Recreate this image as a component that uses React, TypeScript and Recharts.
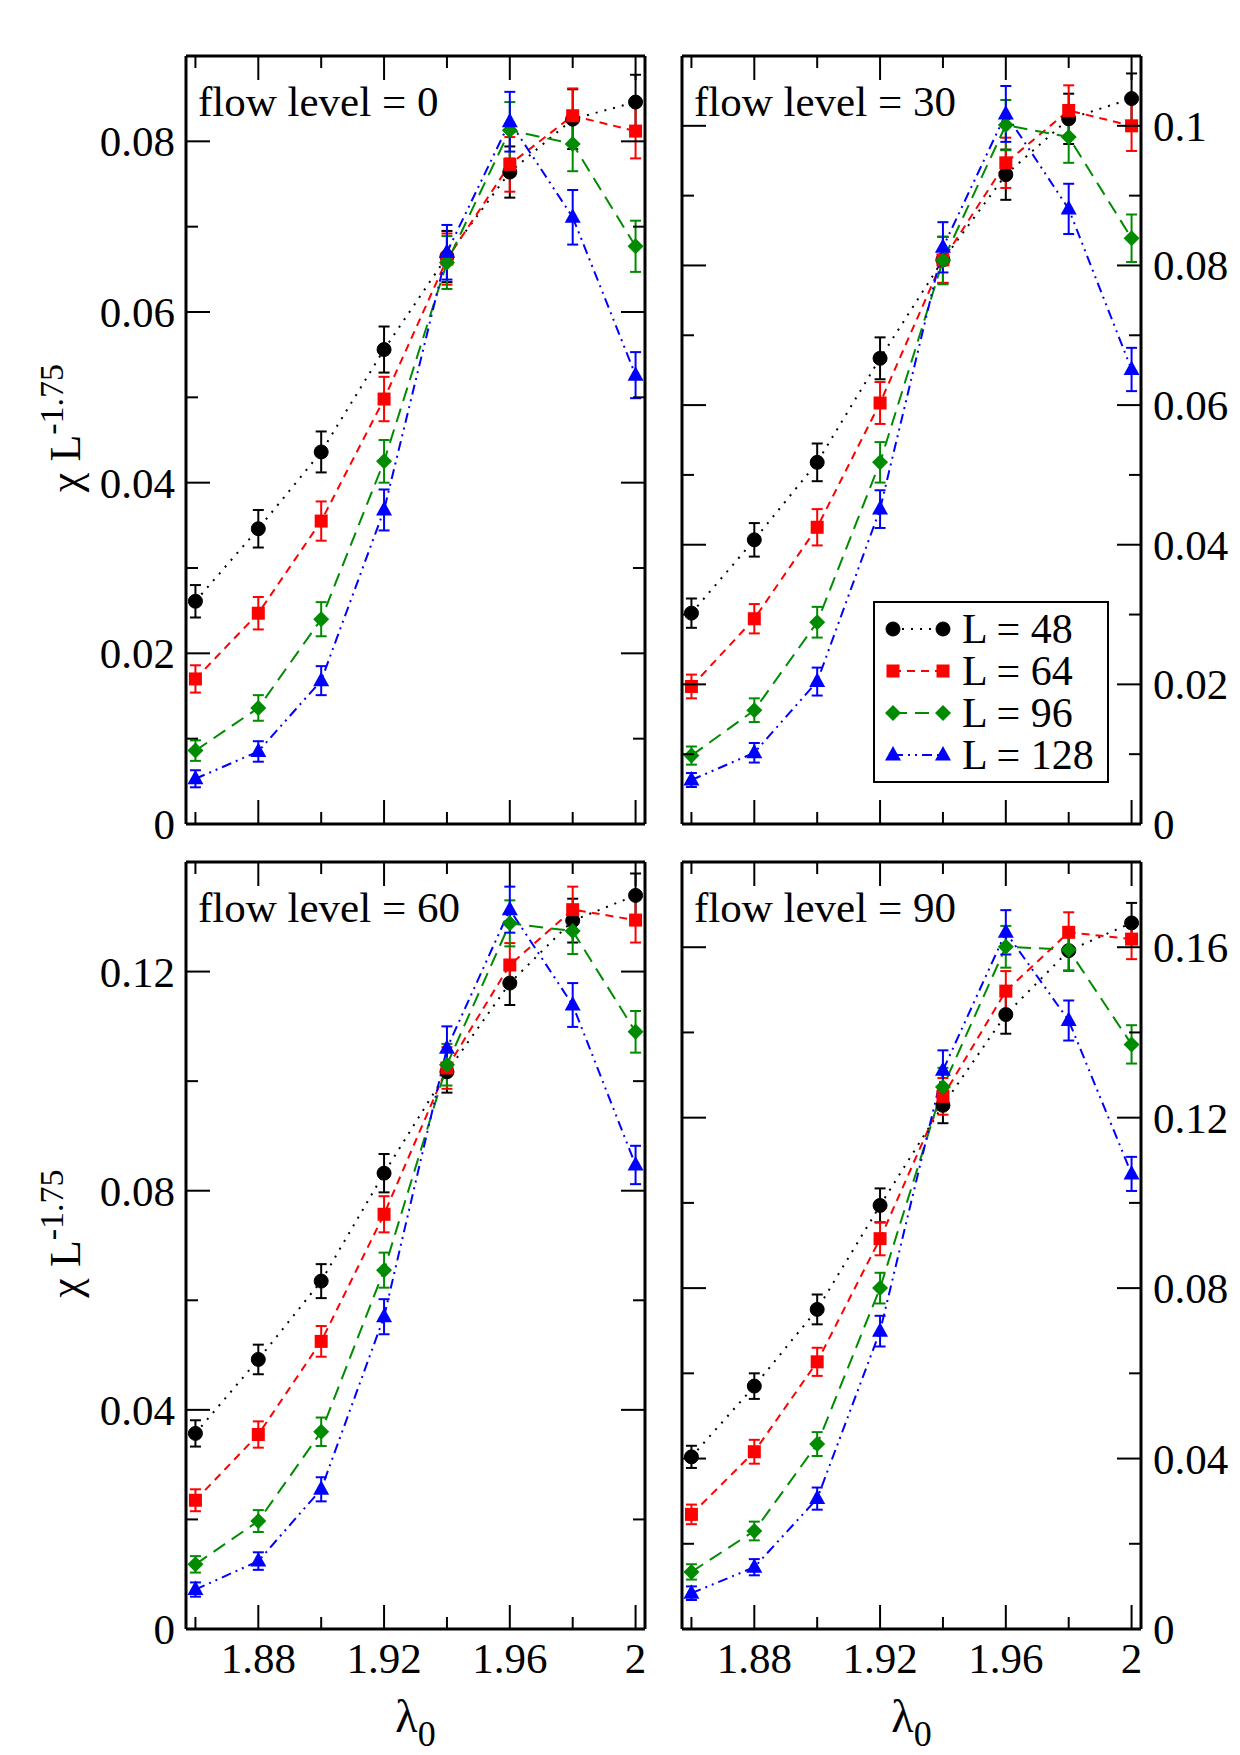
import React from 'react';
import { ComposedChart, Line, XAxis, YAxis, ErrorBar, Legend, Label } from 'recharts';

const FONT = '"Liberation Serif", "Times New Roman", Times, serif';

// ---------------- data ----------------
const lambda0 = [1.86, 1.88, 1.9, 1.92, 1.94, 1.96, 1.98, 2.0];
const xTicks = [1.86, 1.88, 1.9, 1.92, 1.94, 1.96, 1.98, 2.0];
const xTickLabels = ['', '1.88', '', '1.92', '', '1.96', '', '2'];
const xDomain = [1.857, 2.003];

const seriesNames = ['L = 48', 'L = 64', 'L = 96', 'L = 128'];
const seriesKeys = ['L48', 'L64', 'L96', 'L128'];
const seriesColors = ['#000000', '#ff0000', '#008b00', '#0000ff'];
const seriesDashes = ['2 7', '8 6', '14 8', '10 5 2 5 2 5'];
const seriesShapes = ['circle', 'square', 'diamond', 'triangle'];

// flow level = 0
const flow0L48 = [0.0261, 0.0346, 0.0436, 0.0556, 0.0665, 0.0764, 0.0826, 0.0846];
const flow0L64 = [0.0170, 0.0247, 0.0355, 0.0498, 0.0662, 0.0773, 0.0830, 0.0812];
const flow0L96 = [0.0086, 0.0136, 0.0240, 0.0425, 0.0658, 0.0813, 0.0797, 0.0677];
const flow0L128 = [0.0053, 0.0085, 0.0168, 0.0368, 0.0670, 0.0823, 0.0711, 0.0526];
const flow0L48Err = [0.0019, 0.0022, 0.0024, 0.0027, 0.0030, 0.0030, 0.0035, 0.0032];
const flow0L64Err = [0.0016, 0.0019, 0.0023, 0.0026, 0.0030, 0.0032, 0.0032, 0.0032];
const flow0L96Err = [0.0012, 0.0015, 0.0020, 0.0025, 0.0031, 0.0033, 0.0032, 0.0030];
const flow0L128Err = [0.0010, 0.0012, 0.0017, 0.0024, 0.0032, 0.0035, 0.0032, 0.0027];

// flow level = 30
const flow30L48 = [0.0302, 0.0407, 0.0518, 0.0667, 0.0808, 0.0930, 0.1010, 0.1039];
const flow30L64 = [0.0197, 0.0294, 0.0425, 0.0603, 0.0808, 0.0947, 0.1022, 0.1000];
const flow30L96 = [0.0098, 0.0163, 0.0289, 0.0518, 0.0807, 0.1001, 0.0984, 0.0839];
const flow30L128 = [0.0063, 0.0102, 0.0204, 0.0451, 0.0826, 0.1017, 0.0881, 0.0651];
const flow30L48Err = [0.0021, 0.0024, 0.0027, 0.0030, 0.0033, 0.0036, 0.0036, 0.0036];
const flow30L64Err = [0.0017, 0.0021, 0.0026, 0.0030, 0.0033, 0.0036, 0.0036, 0.0036];
const flow30L96Err = [0.0013, 0.0017, 0.0022, 0.0029, 0.0034, 0.0036, 0.0037, 0.0034];
const flow30L128Err = [0.0010, 0.0014, 0.0020, 0.0027, 0.0036, 0.0040, 0.0036, 0.0031];

// flow level = 60
const flow60L48 = [0.0357, 0.0492, 0.0635, 0.0832, 0.1017, 0.1179, 0.1293, 0.1339];
const flow60L64 = [0.0235, 0.0355, 0.0525, 0.0757, 0.1024, 0.1212, 0.1313, 0.1294];
const flow60L96 = [0.0118, 0.0197, 0.0360, 0.0655, 0.1030, 0.1288, 0.1274, 0.1090];
const flow60L128 = [0.0072, 0.0124, 0.0255, 0.0570, 0.1060, 0.1313, 0.1139, 0.0847];
const flow60L48Err = [0.0024, 0.0027, 0.0031, 0.0035, 0.0038, 0.0040, 0.0040, 0.0040];
const flow60L64Err = [0.0020, 0.0024, 0.0028, 0.0033, 0.0038, 0.0040, 0.0042, 0.0041];
const flow60L96Err = [0.0015, 0.0020, 0.0026, 0.0032, 0.0038, 0.0042, 0.0042, 0.0038];
const flow60L128Err = [0.0013, 0.0016, 0.0022, 0.0032, 0.0040, 0.0042, 0.0040, 0.0035];

// flow level = 90
const flow90L48 = [0.0404, 0.0570, 0.0750, 0.0994, 0.1229, 0.1442, 0.1592, 0.1657];
const flow90L64 = [0.0269, 0.0416, 0.0627, 0.0916, 0.1250, 0.1497, 0.1635, 0.1619];
const flow90L96 = [0.0134, 0.0230, 0.0434, 0.0800, 0.1272, 0.1601, 0.1594, 0.1372];
const flow90L128 = [0.0084, 0.0145, 0.0306, 0.0699, 0.1311, 0.1635, 0.1428, 0.1068];
const flow90L48Err = [0.0026, 0.0030, 0.0035, 0.0040, 0.0042, 0.0045, 0.0047, 0.0047];
const flow90L64Err = [0.0023, 0.0028, 0.0033, 0.0039, 0.0043, 0.0047, 0.0047, 0.0047];
const flow90L96Err = [0.0018, 0.0022, 0.0028, 0.0036, 0.0045, 0.0049, 0.0049, 0.0045];
const flow90L128Err = [0.0016, 0.0019, 0.0026, 0.0036, 0.0047, 0.0052, 0.0047, 0.0040];

// y ticks
const yTicksFlow0 = [0, 0.01, 0.02, 0.03, 0.04, 0.05, 0.06, 0.07, 0.08];
const yLabelsFlow0 = ['0', '', '0.02', '', '0.04', '', '0.06', '', '0.08'];
const yTicksFlow30 = [0, 0.01, 0.02, 0.03, 0.04, 0.05, 0.06, 0.07, 0.08, 0.09, 0.1];
const yLabelsFlow30 = ['0', '', '0.02', '', '0.04', '', '0.06', '', '0.08', '', '0.1'];
const yTicksFlow60 = [0, 0.02, 0.04, 0.06, 0.08, 0.1, 0.12];
const yLabelsFlow60 = ['0', '', '0.04', '', '0.08', '', '0.12'];
const yTicksFlow90 = [0, 0.02, 0.04, 0.06, 0.08, 0.1, 0.12, 0.14, 0.16];
const yLabelsFlow90 = ['0', '', '0.04', '', '0.08', '', '0.12', '', '0.16'];

const panelTitles = ['flow level = 0', 'flow level = 30', 'flow level = 60', 'flow level = 90'];

// ---------------- helpers ----------------
function buildRows(values: number[][], errors: number[][]) {
  return lambda0.map((x, i) => {
    const row: any = { x };
    seriesKeys.forEach((k, s) => {
      row[k] = values[s][i];
      row[k + 'err'] = errors[s][i];
    });
    return row;
  });
}

const AXIS_LINE = { stroke: '#000', strokeWidth: 3 };
const MAJOR = 24;
const MINOR = 12;
const TICK_FONT = 43;

function Marker({ shape, color, cx, cy }: any) {
  if (shape === 'circle') return <circle cx={cx} cy={cy} r={7} fill={color} stroke={color} />;
  if (shape === 'square') return <rect x={cx - 6.5} y={cy - 6.5} width={13} height={13} fill={color} />;
  if (shape === 'diamond')
    return <polygon points={`${cx},${cy - 8} ${cx + 8},${cy} ${cx},${cy + 8} ${cx - 8},${cy}`} fill={color} />;
  return <polygon points={`${cx},${cy - 9} ${cx + 8},${cy + 5.5} ${cx - 8},${cy + 5.5}`} fill={color} />;
}

function makeDot(shape: string, color: string) {
  return (props: any) => {
    const { cx, cy, index } = props;
    if (cx == null || cy == null) return <g key={`d${index}`} />;
    return (
      <g key={`d${index}`}>
        <Marker shape={shape} color={color} cx={cx} cy={cy} />
      </g>
    );
  };
}

function BottomTick(props: any) {
  const { x, y, index, show } = props;
  const label = xTickLabels[index];
  const major = label !== '';
  return (
    <g>
      <line x1={x} y1={y} x2={x} y2={y - (major ? MAJOR : MINOR)} stroke="#000" strokeWidth={2} />
      {show && major && (
        <text x={x} y={y + 44} textAnchor="middle" fontSize={TICK_FONT} fontFamily={FONT} fill="#000">
          {label}
        </text>
      )}
    </g>
  );
}

function TopTick(props: any) {
  const { x, y, index } = props;
  const major = xTickLabels[index] !== '';
  return <line x1={x} y1={y} x2={x} y2={y + (major ? MAJOR : MINOR)} stroke="#000" strokeWidth={2} />;
}

function LeftTick(props: any) {
  const { x, y, index, labels, show } = props;
  const label = labels[index];
  const major = label !== '';
  return (
    <g>
      <line x1={x} y1={y} x2={x + (major ? MAJOR : MINOR)} y2={y} stroke="#000" strokeWidth={2} />
      {show && major && (
        <text x={x - 11} y={y + 15} textAnchor="end" fontSize={TICK_FONT} fontFamily={FONT} fill="#000">
          {label}
        </text>
      )}
    </g>
  );
}

function RightTick(props: any) {
  const { x, y, index, labels, show } = props;
  const label = labels[index];
  const major = label !== '';
  return (
    <g>
      <line x1={x} y1={y} x2={x - (major ? MAJOR : MINOR)} y2={y} stroke="#000" strokeWidth={2} />
      {show && major && (
        <text x={x + 12} y={y + 15} textAnchor="start" fontSize={TICK_FONT} fontFamily={FONT} fill="#000">
          {label}
        </text>
      )}
    </g>
  );
}

function LegendBox() {
  return (
    <svg width={236} height={182} style={{ display: 'block' }}>
      <rect x={1} y={1} width={234} height={180} fill="#fff" stroke="#000" strokeWidth={2} />
      {seriesNames.map((name, i) => {
        const yy = 28 + i * 42;
        return (
          <g key={name}>
            <line x1={20} y1={yy} x2={70} y2={yy} stroke={seriesColors[i]} strokeWidth={2} strokeDasharray={seriesDashes[i]} />
            <Marker shape={seriesShapes[i]} color={seriesColors[i]} cx={20} cy={yy} />
            <Marker shape={seriesShapes[i]} color={seriesColors[i]} cx={70} cy={yy} />
            <text x={89} y={yy + 14} fontSize={42} fontFamily={FONT} fill="#000">
              {name}
            </text>
          </g>
        );
      })}
    </svg>
  );
}

function YTitle(props: any) {
  const vb = props.viewBox || { x: 0, y: 0, width: 0, height: 0 };
  const bx = vb.x + 80;
  const cy = vb.y + vb.height / 2 - 12;
  return (
    <text
      x={bx}
      y={cy}
      transform={`rotate(-90, ${bx}, ${cy})`}
      textAnchor="middle"
      fontFamily={FONT}
      fontSize={44}
      fill="#000"
    >
      <tspan>χ L</tspan>
      <tspan fontSize={34} dy={-17}>-1.75</tspan>
    </text>
  );
}

function XTitle(props: any) {
  const vb = props.viewBox || { x: 0, y: 0, width: 0, height: 0 };
  const cx = vb.x + vb.width / 2;
  return (
    <text x={cx} y={vb.y + 103} textAnchor="middle" fontFamily={FONT} fontSize={46} fill="#000">
      <tspan>λ</tspan>
      <tspan fontSize={36} dy={14}>0</tspan>
    </text>
  );
}

function PanelTitle(props: any) {
  const vb = props.viewBox || { x: 0, y: 0, width: 0, height: 0 };
  return (
    <text x={vb.x + 12} y={vb.y + vb.height + 60} fontFamily={FONT} fontSize={43} fill="#000">
      {props.title}
    </text>
  );
}

type PanelCfg = {
  title: string;
  values: number[][];
  errors: number[][];
  yMax: number;
  yTicks: number[];
  yLabels: string[];
  left: number;
  top: number;
  width: number;
  height: number;
  marginTop: number;
  leftW: number;
  rightW: number;
  bottomH: number;
  showLeft: boolean;
  showRight: boolean;
  showX: boolean;
  legend: boolean;
};

const panels: PanelCfg[] = [
  {
    title: panelTitles[0],
    values: [flow0L48, flow0L64, flow0L96, flow0L128],
    errors: [flow0L48Err, flow0L64Err, flow0L96Err, flow0L128Err],
    yMax: 0.09, yTicks: yTicksFlow0, yLabels: yLabelsFlow0,
    left: 0, top: 0, width: 663, height: 856, marginTop: 55, leftW: 186, rightW: 18, bottomH: 32,
    showLeft: true, showRight: false, showX: false, legend: false,
  },
  {
    title: panelTitles[1],
    values: [flow30L48, flow30L64, flow30L96, flow30L128],
    errors: [flow30L48Err, flow30L64Err, flow30L96Err, flow30L128Err],
    yMax: 0.11, yTicks: yTicksFlow30, yLabels: yLabelsFlow30,
    left: 663, top: 0, width: 577, height: 856, marginTop: 55, leftW: 19, rightW: 99, bottomH: 32,
    showLeft: false, showRight: true, showX: false, legend: true,
  },
  {
    title: panelTitles[2],
    values: [flow60L48, flow60L64, flow60L96, flow60L128],
    errors: [flow60L48Err, flow60L64Err, flow60L96Err, flow60L128Err],
    yMax: 0.14, yTicks: yTicksFlow60, yLabels: yLabelsFlow60,
    left: 0, top: 856, width: 663, height: 899, marginTop: 5, leftW: 186, rightW: 18, bottomH: 126,
    showLeft: true, showRight: false, showX: true, legend: false,
  },
  {
    title: panelTitles[3],
    values: [flow90L48, flow90L64, flow90L96, flow90L128],
    errors: [flow90L48Err, flow90L64Err, flow90L96Err, flow90L128Err],
    yMax: 0.18, yTicks: yTicksFlow90, yLabels: yLabelsFlow90,
    left: 663, top: 856, width: 577, height: 899, marginTop: 5, leftW: 19, rightW: 99, bottomH: 126,
    showLeft: false, showRight: true, showX: true, legend: false,
  },
];

function Panel({ cfg }: { cfg: PanelCfg }) {
  const data = buildRows(cfg.values, cfg.errors);
  return (
    <div style={{ position: 'absolute', left: cfg.left, top: cfg.top, width: cfg.width, height: cfg.height }}>
      <ComposedChart
        width={cfg.width}
        height={cfg.height}
        data={data}
        margin={{ top: cfg.marginTop, right: 0, bottom: 0, left: 0 }}
      >
        <XAxis
          xAxisId="b"
          dataKey="x"
          type="number"
          domain={xDomain}
          allowDataOverflow
          ticks={xTicks}
          interval={0}
          height={cfg.bottomH}
          tickSize={0}
          tickMargin={0}
          tickLine={false}
          axisLine={AXIS_LINE}
          tick={(p: any) => <BottomTick {...p} show={cfg.showX} />}
        >
          {cfg.showX && <Label content={(p: any) => <XTitle {...p} />} />}
        </XAxis>
        <XAxis
          xAxisId="t"
          orientation="top"
          dataKey="x"
          type="number"
          domain={xDomain}
          allowDataOverflow
          ticks={xTicks}
          interval={0}
          height={1}
          tickSize={0}
          tickMargin={0}
          tickLine={false}
          axisLine={AXIS_LINE}
          tick={(p: any) => <TopTick {...p} />}
        >
          <Label content={(p: any) => <PanelTitle {...p} title={cfg.title} />} />
        </XAxis>
        <YAxis
          yAxisId="l"
          orientation="left"
          type="number"
          domain={[0, cfg.yMax]}
          allowDataOverflow
          ticks={cfg.yTicks}
          interval={0}
          width={cfg.leftW}
          tickSize={0}
          tickMargin={0}
          tickLine={false}
          axisLine={AXIS_LINE}
          tick={(p: any) => <LeftTick {...p} labels={cfg.yLabels} show={cfg.showLeft} />}
        >
          {cfg.showLeft && <Label content={(p: any) => <YTitle {...p} />} />}
        </YAxis>
        <YAxis
          yAxisId="r"
          orientation="right"
          type="number"
          domain={[0, cfg.yMax]}
          allowDataOverflow
          ticks={cfg.yTicks}
          interval={0}
          width={cfg.rightW}
          tickSize={0}
          tickMargin={0}
          tickLine={false}
          axisLine={AXIS_LINE}
          tick={(p: any) => <RightTick {...p} labels={cfg.yLabels} show={cfg.showRight} />}
        />
        {seriesKeys.map((k, s) => (
          <Line
            key={k}
            xAxisId="b"
            yAxisId="l"
            type="linear"
            dataKey={k}
            name={seriesNames[s]}
            stroke={seriesColors[s]}
            strokeWidth={2}
            strokeDasharray={seriesDashes[s]}
            dot={makeDot(seriesShapes[s], seriesColors[s])}
            activeDot={false}
            isAnimationActive={false}
          >
            <ErrorBar
              dataKey={k + 'err'}
              direction="y"
              width={5.5}
              stroke={seriesColors[s]}
              strokeWidth={2}
              isAnimationActive={false}
            />
          </Line>
        ))}
        {cfg.legend && (
          <Legend
            layout="horizontal"
            align="center"
            verticalAlign="middle"
            width={236}
            height={182}
            wrapperStyle={{ left: 210, top: 601, width: 236, height: 182 }}
            content={() => <LegendBox />}
          />
        )}
      </ComposedChart>
    </div>
  );
}

export default function App() {
  return (
    <div style={{ position: 'absolute', left: 0, top: 0, width: 1240, height: 1755, background: '#fff' }}>
      {panels.map((cfg) => (
        <Panel key={cfg.title} cfg={cfg} />
      ))}
    </div>
  );
}
